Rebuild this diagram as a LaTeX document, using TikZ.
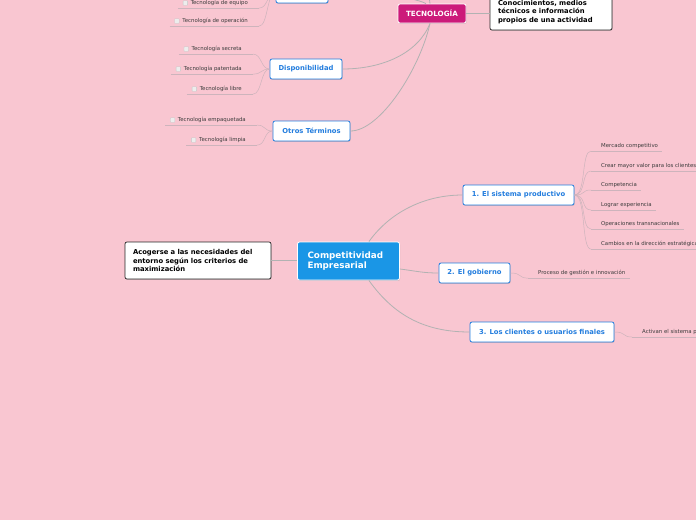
\documentclass[tikz,border=0pt]{standalone}
\usepackage{fontspec}
\setmainfont{DejaVu Sans}
\usetikzlibrary{positioning,shadows}
\definecolor{bgpink}{RGB}{249,198,209}
\definecolor{topicblue}{RGB}{35,125,222}
\definecolor{compblue}{RGB}{26,150,230}
\definecolor{tecmagenta}{RGB}{204,26,122}
\definecolor{leaftext}{RGB}{60,60,60}
\definecolor{linkgray}{RGB}{178,178,178}
\definecolor{ulinegray}{RGB}{205,180,188}

\begin{document}
\begin{tikzpicture}[x=1pt, y=-1pt,
    topic/.style={rectangle, rounded corners=2pt, draw=topicblue, line width=0.8pt, fill=white,
                  text=topicblue, font=\fontsize{6.8}{8}\selectfont\bfseries, minimum height=20pt, inner sep=2pt,
                  drop shadow={shadow xshift=0.6pt, shadow yshift=-0.9pt, opacity=0.3}},
    note/.style={rectangle, rounded corners=2pt, draw=black!85, line width=0.7pt, fill=white,
                 font=\fontsize{6.8}{8.6}\selectfont\bfseries, align=left, inner xsep=8pt,
                 drop shadow={shadow xshift=0.6pt, shadow yshift=-0.9pt, opacity=0.3}},
    leaf/.style={font=\fontsize{5.4}{6.5}\selectfont, text=leaftext, inner xsep=1pt, inner ysep=2.2pt},
    chk/.style={rectangle, draw=black!22, fill=black!7, rounded corners=0.5pt, minimum size=4.5pt, inner sep=0pt},
    link/.style={draw=linkgray, line width=0.8pt},
    twig/.style={draw=ulinegray, line width=0.5pt}
]
\useasboundingbox (0,0) rectangle (696,520);
\clip (0,0) rectangle (696,520);
\fill[bgpink] (0,0) rectangle (696,520);

% Central topics
\node[topic, fill=compblue, draw=white, text=white, font=\fontsize{8.8}{10.5}\selectfont\bfseries,
      align=left, text width=82pt, inner xsep=10pt, minimum height=38pt] (comp) at (348.5,261)
      {Competitividad\\Empresarial};
\node[topic, fill=tecmagenta, draw=white, text=white, font=\fontsize{7.2}{8}\selectfont\bfseries,
      minimum width=68pt, minimum height=19pt] (tec) at (432,13.5) {TECNOLOGÍA};

% Notes
\node[note, text width=106pt, minimum height=36pt] (def) at (551,12)
     {Conocimientos, medios\\técnicos e información\\propios de una actividad};
\node[note, text width=130pt, minimum height=37pt] (lbox) at (198,260.5)
     {Acogerse a las necesidades del\\entorno según los criterios de\\maximización};

% Subtopics
\node[topic, minimum width=52pt] (topbox) at (302,-7) {};
\node[topic, minimum width=72pt] (disp) at (306,69) {Disponibilidad};
\node[topic, minimum width=77pt] (otros) at (311.5,131) {Otros Términos};
\node[topic, minimum width=111pt] (sist) at (518.5,195) {1. El sistema productivo};
\node[topic, minimum width=71pt] (gob) at (474.5,273) {2. El gobierno};
\node[topic, minimum width=144pt] (cli) at (542,332) {3. Los clientes o usuarios finales};

% Main links
\draw[link] (lbox.east) -- (comp.west |- lbox.east);
\draw[link] (tec.east) -- (tec.east -| def.west);
\draw[link] ([xshift=-31pt]comp.north east) .. controls +(20,-28) and +(-40,0) .. (sist.west);
\draw[link] ([yshift=-8pt]comp.east) .. controls +(16,2) and +(-16,0) .. (gob.west);
\draw[link] ([xshift=-31pt]comp.south east) .. controls +(25,35) and +(-45,0) .. (cli.west);
\draw[link] ([xshift=-2pt]tec.south) .. controls +(-12,30) and +(40,0) .. (disp.east);
\draw[link] ([xshift=-2pt]tec.south) .. controls +(-10,45) and +(30,0) .. (otros.east);
\draw[link] ([xshift=-6pt]tec.north) .. controls +(-15,-8) and +(35,0) .. (topbox.east);
\draw[link] ([xshift=-2pt]tec.north) .. controls +(-1,-8) and +(0,10) .. (428,-20);

% Leaves with checkbox (left side)
\foreach \nm/\up/\x/\y/\txt in {
    a1/topbox/249/3/{Tecnología de equipo},
    a2/topbox/249/21/{Tecnología de operación},
    b1/disp/243/49/{Tecnología secreta},
    b2/disp/243/69/{Tecnología patentada},
    b3/disp/243/89/{Tecnología libre},
    c1/otros/247/120/{Tecnología empaquetada},
    c2/otros/247/140/{Tecnología limpia}}{
  \node[leaf, anchor=east] (\nm) at (\x,\y) {\txt};
  \node[chk, left=1.8pt of \nm] (\nm box) {};
  \draw[twig] ([xshift=-5pt]\nm box.west |- \nm.south) -- ([xshift=10pt]\nm.south east);
  \draw[twig] (\up.west) .. controls +(-9,0) and +(9,0) .. ([xshift=10pt]\nm.south east);
}

% Leaves (right side)
\foreach \nm/\up/\x/\y/\txt in {
    r1/sist/600/146/{Mercado competitivo},
    r2/sist/600/166/{Crear mayor valor para los clientes},
    r3/sist/600/185/{Competencia},
    r4/sist/600/205/{Lograr experiencia},
    r5/sist/600/224/{Operaciones transnacionales},
    r6/sist/600/244/{Cambios en la dirección estratégica},
    g1/gob/537/273/{Proceso de gestión e innovación},
    k1/cli/641/332/{Activan el sistema productivo}}{
  \node[leaf, anchor=west] (\nm) at (\x,\y) {\txt};
  \draw[twig] ([xshift=-9pt]\nm.south west) -- ([xshift=3pt]\nm.south east);
  \draw[twig] (\up.east) .. controls +(12,0) and +(-10,0) .. ([xshift=-9pt]\nm.south west);
}

\end{tikzpicture}
\end{document}
